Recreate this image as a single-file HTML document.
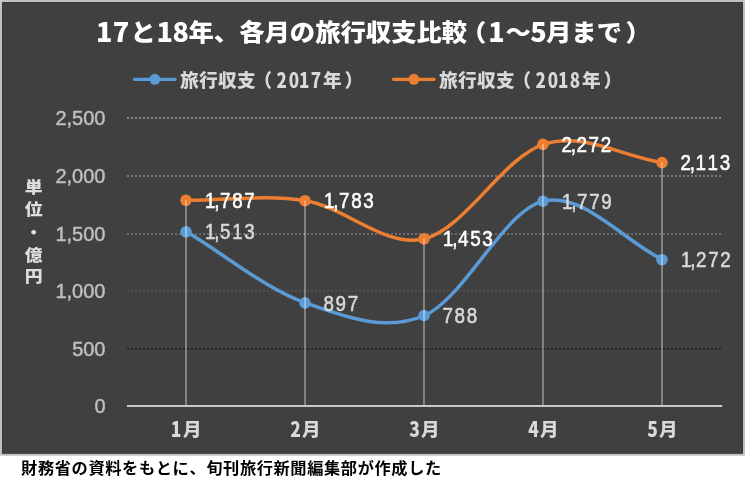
<!DOCTYPE html>
<html lang="ja"><head><meta charset="utf-8"><title>旅行収支比較</title>
<style>html,body{margin:0;padding:0;background:#fff;overflow:hidden}svg{display:block}</style></head>
<body>
<svg width="753" height="486" viewBox="0 0 753 486">
<rect x="0" y="0" width="745" height="455.75" rx="1.5" fill="#c1c1c1"/>
<rect x="2" y="2" width="741" height="451.8" fill="#383838"/>
<rect x="3" y="3" width="739.4" height="450.2" fill="#404040"/>
<line x1="127" x2="722" y1="118" y2="118" stroke="#868686" stroke-width="2" stroke-dasharray="2 2" shape-rendering="crispEdges"/>
<line x1="127" x2="722" y1="176" y2="176" stroke="#7c7c7c" stroke-width="2" stroke-dasharray="2 2" shape-rendering="crispEdges"/>
<line x1="127" x2="722" y1="234" y2="234" stroke="#6c6c6c" stroke-width="2" stroke-dasharray="2 2" shape-rendering="crispEdges"/>
<line x1="127" x2="722" y1="291" y2="291" stroke="#4f4f4f" stroke-width="2" stroke-dasharray="2 2" shape-rendering="crispEdges"/>
<line x1="127" x2="722" y1="349" y2="349" stroke="#262626" stroke-width="2" stroke-dasharray="2 2" shape-rendering="crispEdges"/>
<rect x="127" y="405" width="595.2" height="2" fill="#c9c9c9"/>
<path d="M186.50,231.86 C226.17,255.55 265.83,288.98 305.50,302.92 C345.17,316.86 384.83,332.45 424.50,315.50 C464.17,298.54 503.83,210.48 543.50,201.17 C583.17,191.87 622.83,240.17 662.50,259.66" fill="none" stroke="#5b9bd5" stroke-width="3.5" stroke-linecap="round"/>
<circle cx="186.0" cy="231.9" r="5.8" fill="#5b9bd5"/>
<circle cx="305.0" cy="302.9" r="5.8" fill="#5b9bd5"/>
<circle cx="424.0" cy="315.5" r="5.8" fill="#5b9bd5"/>
<circle cx="543.0" cy="201.2" r="5.8" fill="#5b9bd5"/>
<circle cx="662.0" cy="259.7" r="5.8" fill="#5b9bd5"/>
<path d="M186.50,200.25 C226.17,200.41 265.83,194.29 305.50,200.71 C345.17,207.13 384.83,248.18 424.50,238.78 C464.17,229.38 503.83,156.99 543.50,144.30 C583.17,131.61 622.83,156.53 662.50,162.64" fill="none" stroke="#ed7d31" stroke-width="3.5" stroke-linecap="round"/>
<circle cx="186.0" cy="200.3" r="5.8" fill="#ed7d31"/>
<circle cx="305.0" cy="200.7" r="5.8" fill="#ed7d31"/>
<circle cx="424.0" cy="238.8" r="5.8" fill="#ed7d31"/>
<circle cx="543.0" cy="144.3" r="5.8" fill="#ed7d31"/>
<circle cx="662.0" cy="162.6" r="5.8" fill="#ed7d31"/>
<line x1="186.0" x2="186.0" y1="200.3" y2="405" stroke="#ffffff" stroke-opacity="0.5" stroke-width="1.4"/>
<line x1="305.0" x2="305.0" y1="200.7" y2="405" stroke="#ffffff" stroke-opacity="0.5" stroke-width="1.4"/>
<line x1="424.0" x2="424.0" y1="238.8" y2="405" stroke="#ffffff" stroke-opacity="0.5" stroke-width="1.4"/>
<line x1="543.0" x2="543.0" y1="144.3" y2="405" stroke="#ffffff" stroke-opacity="0.5" stroke-width="1.4"/>
<line x1="662.0" x2="662.0" y1="162.6" y2="405" stroke="#ffffff" stroke-opacity="0.5" stroke-width="1.4"/>
<text transform="translate(105.50 125.30)" text-anchor="end" font-family="'Liberation Sans',sans-serif" font-weight="normal" font-size="20" fill="#bfbfbf" stroke="#bfbfbf" stroke-width="0.45">2,500</text>
<text transform="translate(105.50 183.30)" text-anchor="end" font-family="'Liberation Sans',sans-serif" font-weight="normal" font-size="20" fill="#bfbfbf" stroke="#bfbfbf" stroke-width="0.45">2,000</text>
<text transform="translate(105.50 241.30)" text-anchor="end" font-family="'Liberation Sans',sans-serif" font-weight="normal" font-size="20" fill="#bfbfbf" stroke="#bfbfbf" stroke-width="0.45">1,500</text>
<text transform="translate(105.50 298.30)" text-anchor="end" font-family="'Liberation Sans',sans-serif" font-weight="normal" font-size="20" fill="#bfbfbf" stroke="#bfbfbf" stroke-width="0.45">1,000</text>
<text transform="translate(105.50 356.30)" text-anchor="end" font-family="'Liberation Sans',sans-serif" font-weight="normal" font-size="20" fill="#bfbfbf" stroke="#bfbfbf" stroke-width="0.45">500</text>
<text transform="translate(105.50 413.30)" text-anchor="end" font-family="'Liberation Sans',sans-serif" font-weight="normal" font-size="20" fill="#bfbfbf" stroke="#bfbfbf" stroke-width="0.45">0</text>
<text transform="translate(176.10 437.00) scale(0.84 1)" text-anchor="middle" font-family="'Noto Sans CJK JP',sans-serif" font-weight="900" font-size="20.8" fill="#d9d9d9">1</text>
<text transform="translate(183.00 435.50) scale(1.03 1)" text-anchor="start" font-family="'Noto Sans CJK JP',sans-serif" font-weight="900" font-size="18" fill="#d9d9d9">月</text>
<text transform="translate(295.45 437.00) scale(0.84 1)" text-anchor="middle" font-family="'Noto Sans CJK JP',sans-serif" font-weight="900" font-size="20.8" fill="#d9d9d9">2</text>
<text transform="translate(302.00 435.50) scale(1.03 1)" text-anchor="start" font-family="'Noto Sans CJK JP',sans-serif" font-weight="900" font-size="18" fill="#d9d9d9">月</text>
<text transform="translate(414.50 437.00) scale(0.84 1)" text-anchor="middle" font-family="'Noto Sans CJK JP',sans-serif" font-weight="900" font-size="20.8" fill="#d9d9d9">3</text>
<text transform="translate(421.00 435.50) scale(1.03 1)" text-anchor="start" font-family="'Noto Sans CJK JP',sans-serif" font-weight="900" font-size="18" fill="#d9d9d9">月</text>
<text transform="translate(533.50 437.00) scale(0.84 1)" text-anchor="middle" font-family="'Noto Sans CJK JP',sans-serif" font-weight="900" font-size="20.8" fill="#d9d9d9">4</text>
<text transform="translate(540.00 435.50) scale(1.03 1)" text-anchor="start" font-family="'Noto Sans CJK JP',sans-serif" font-weight="900" font-size="18" fill="#d9d9d9">月</text>
<text transform="translate(652.50 437.00) scale(0.84 1)" text-anchor="middle" font-family="'Noto Sans CJK JP',sans-serif" font-weight="900" font-size="20.8" fill="#d9d9d9">5</text>
<text transform="translate(659.00 435.50) scale(1.03 1)" text-anchor="start" font-family="'Noto Sans CJK JP',sans-serif" font-weight="900" font-size="18" fill="#d9d9d9">月</text>
<text transform="translate(210.30 239.46) scale(0.88 1)" x="0.00 7.61 17.05 30.85 44.66" text-anchor="middle" font-family="'Liberation Sans',sans-serif" font-weight="normal" font-size="21.4" fill="#d9d9d9" stroke="#d9d9d9" stroke-width="0.55">1,513</text>
<text transform="translate(210.30 207.85) scale(0.88 1)" x="0.00 7.61 17.05 30.85 44.66" text-anchor="middle" font-family="'Liberation Sans',sans-serif" font-weight="normal" font-size="21.4" fill="#ffffff" stroke="#ffffff" stroke-width="0.55">1,787</text>
<text transform="translate(328.70 310.52) scale(0.88 1)" x="0.00 13.81 27.61" text-anchor="middle" font-family="'Liberation Sans',sans-serif" font-weight="normal" font-size="21.4" fill="#d9d9d9" stroke="#d9d9d9" stroke-width="0.55">897</text>
<text transform="translate(329.30 208.31) scale(0.88 1)" x="0.00 7.61 17.05 30.85 44.66" text-anchor="middle" font-family="'Liberation Sans',sans-serif" font-weight="normal" font-size="21.4" fill="#ffffff" stroke="#ffffff" stroke-width="0.55">1,783</text>
<text transform="translate(447.70 323.10) scale(0.88 1)" x="0.00 13.81 27.61" text-anchor="middle" font-family="'Liberation Sans',sans-serif" font-weight="normal" font-size="21.4" fill="#d9d9d9" stroke="#d9d9d9" stroke-width="0.55">788</text>
<text transform="translate(448.30 246.38) scale(0.88 1)" x="0.00 7.61 17.05 30.85 44.66" text-anchor="middle" font-family="'Liberation Sans',sans-serif" font-weight="normal" font-size="21.4" fill="#ffffff" stroke="#ffffff" stroke-width="0.55">1,453</text>
<text transform="translate(567.30 208.77) scale(0.88 1)" x="0.00 7.61 17.05 30.85 44.66" text-anchor="middle" font-family="'Liberation Sans',sans-serif" font-weight="normal" font-size="21.4" fill="#d9d9d9" stroke="#d9d9d9" stroke-width="0.55">1,779</text>
<text transform="translate(566.70 151.90) scale(0.88 1)" x="0.00 7.61 17.05 30.85 44.66" text-anchor="middle" font-family="'Liberation Sans',sans-serif" font-weight="normal" font-size="21.4" fill="#ffffff" stroke="#ffffff" stroke-width="0.55">2,272</text>
<text transform="translate(686.30 267.26) scale(0.88 1)" x="0.00 7.61 17.05 30.85 44.66" text-anchor="middle" font-family="'Liberation Sans',sans-serif" font-weight="normal" font-size="21.4" fill="#d9d9d9" stroke="#d9d9d9" stroke-width="0.55">1,272</text>
<text transform="translate(685.70 170.24) scale(0.88 1)" x="0.00 7.61 17.05 30.85 44.66" text-anchor="middle" font-family="'Liberation Sans',sans-serif" font-weight="normal" font-size="21.4" fill="#ffffff" stroke="#ffffff" stroke-width="0.55">2,113</text>
<text transform="translate(104.25 41.90)" text-anchor="middle" font-family="'Noto Sans CJK JP',sans-serif" font-weight="900" font-size="27" fill="#ffffff">1</text>
<text transform="translate(121.00 41.90)" text-anchor="middle" font-family="'Noto Sans CJK JP',sans-serif" font-weight="900" font-size="27" fill="#ffffff">7</text>
<text transform="translate(130.50 41.00) scale(1.078 1)" x="0.00" text-anchor="start" font-family="'Noto Sans CJK JP',sans-serif" font-weight="900" font-size="23.5" fill="#ffffff">と</text>
<text transform="translate(164.70 41.90)" text-anchor="middle" font-family="'Noto Sans CJK JP',sans-serif" font-weight="900" font-size="27" fill="#ffffff">1</text>
<text transform="translate(180.70 41.90)" text-anchor="middle" font-family="'Noto Sans CJK JP',sans-serif" font-weight="900" font-size="27" fill="#ffffff">8</text>
<text transform="translate(188.50 41.00) scale(1.078 1)" x="0.00 23.50 47.00 70.50 94.00 117.50 141.00 164.50 188.00 211.50 235.00" text-anchor="start" font-family="'Noto Sans CJK JP',sans-serif" font-weight="900" font-size="23.5" fill="#ffffff">年、各月の旅行収支比較</text>
<text transform="translate(461.00 41.00) scale(1.078 1)" x="0.00" text-anchor="start" font-family="'Noto Sans CJK JP',sans-serif" font-weight="900" font-size="23.5" fill="#ffffff">（</text>
<text transform="translate(496.50 41.90)" text-anchor="middle" font-family="'Noto Sans CJK JP',sans-serif" font-weight="900" font-size="27" fill="#ffffff">1</text>
<text transform="translate(505.50 41.00) scale(1.078 1)" x="0.00" text-anchor="start" font-family="'Noto Sans CJK JP',sans-serif" font-weight="900" font-size="23.5" fill="#ffffff">～</text>
<text transform="translate(538.35 41.90)" text-anchor="middle" font-family="'Noto Sans CJK JP',sans-serif" font-weight="900" font-size="27" fill="#ffffff">5</text>
<text transform="translate(546.00 41.00) scale(1.078 1)" x="0.00 23.50 47.00" text-anchor="start" font-family="'Noto Sans CJK JP',sans-serif" font-weight="900" font-size="23.5" fill="#ffffff">月まで</text>
<text transform="translate(625.60 41.00) scale(1.078 1)" x="0.00" text-anchor="start" font-family="'Noto Sans CJK JP',sans-serif" font-weight="900" font-size="23.5" fill="#ffffff">）</text>
<line x1="134.5" x2="175.0" y1="79.3" y2="79.3" stroke="#5b9bd5" stroke-width="3.2" stroke-linecap="round"/>
<circle cx="154.9" cy="79.3" r="5.5" fill="#5b9bd5"/>
<text transform="translate(180.00 87.00)" x="0.00 19.00 38.00 57.00" text-anchor="start" font-family="'Noto Sans CJK JP',sans-serif" font-weight="900" font-size="18.67" fill="#d9d9d9">旅行収支</text>
<text transform="translate(253.40 87.00)" text-anchor="start" font-family="'Noto Sans CJK JP',sans-serif" font-weight="900" font-size="18.67" fill="#d9d9d9">（</text>
<text transform="translate(281.65 88.00) scale(0.82 1)" text-anchor="middle" font-family="'Noto Sans CJK JP',sans-serif" font-weight="900" font-size="20.8" fill="#d9d9d9">2</text>
<text transform="translate(294.05 88.00) scale(0.82 1)" text-anchor="middle" font-family="'Noto Sans CJK JP',sans-serif" font-weight="900" font-size="20.8" fill="#d9d9d9">0</text>
<text transform="translate(304.30 88.00) scale(0.82 1)" text-anchor="middle" font-family="'Noto Sans CJK JP',sans-serif" font-weight="900" font-size="20.8" fill="#d9d9d9">1</text>
<text transform="translate(315.95 88.00) scale(0.82 1)" text-anchor="middle" font-family="'Noto Sans CJK JP',sans-serif" font-weight="900" font-size="20.8" fill="#d9d9d9">7</text>
<text transform="translate(323.10 87.00)" text-anchor="start" font-family="'Noto Sans CJK JP',sans-serif" font-weight="900" font-size="18.67" fill="#d9d9d9">年</text>
<text transform="translate(344.50 87.00)" text-anchor="start" font-family="'Noto Sans CJK JP',sans-serif" font-weight="900" font-size="18.67" fill="#d9d9d9">）</text>
<line x1="393.5" x2="434.0" y1="79.3" y2="79.3" stroke="#ed7d31" stroke-width="3.2" stroke-linecap="round"/>
<circle cx="413.9" cy="79.3" r="5.5" fill="#ed7d31"/>
<text transform="translate(439.00 87.00)" x="0.00 19.00 38.00 57.00" text-anchor="start" font-family="'Noto Sans CJK JP',sans-serif" font-weight="900" font-size="18.67" fill="#d9d9d9">旅行収支</text>
<text transform="translate(512.40 87.00)" text-anchor="start" font-family="'Noto Sans CJK JP',sans-serif" font-weight="900" font-size="18.67" fill="#d9d9d9">（</text>
<text transform="translate(540.65 88.00) scale(0.82 1)" text-anchor="middle" font-family="'Noto Sans CJK JP',sans-serif" font-weight="900" font-size="20.8" fill="#d9d9d9">2</text>
<text transform="translate(553.05 88.00) scale(0.82 1)" text-anchor="middle" font-family="'Noto Sans CJK JP',sans-serif" font-weight="900" font-size="20.8" fill="#d9d9d9">0</text>
<text transform="translate(563.30 88.00) scale(0.82 1)" text-anchor="middle" font-family="'Noto Sans CJK JP',sans-serif" font-weight="900" font-size="20.8" fill="#d9d9d9">1</text>
<text transform="translate(574.95 88.00) scale(0.82 1)" text-anchor="middle" font-family="'Noto Sans CJK JP',sans-serif" font-weight="900" font-size="20.8" fill="#d9d9d9">8</text>
<text transform="translate(582.10 87.00)" text-anchor="start" font-family="'Noto Sans CJK JP',sans-serif" font-weight="900" font-size="18.67" fill="#d9d9d9">年</text>
<text transform="translate(603.50 87.00)" text-anchor="start" font-family="'Noto Sans CJK JP',sans-serif" font-weight="900" font-size="18.67" fill="#d9d9d9">）</text>
<text transform="translate(33.60 193.20) scale(1.03 0.93)" text-anchor="middle" font-family="'Noto Sans CJK JP',sans-serif" font-weight="900" font-size="17.33" fill="#dedede">単</text>
<text transform="translate(33.60 214.90) scale(1.03 0.93)" text-anchor="middle" font-family="'Noto Sans CJK JP',sans-serif" font-weight="900" font-size="17.33" fill="#dedede">位</text>
<text transform="translate(33.60 237.60) scale(1.03 0.93)" text-anchor="middle" font-family="'Noto Sans CJK JP',sans-serif" font-weight="900" font-size="17.33" fill="#dedede">・</text>
<text transform="translate(33.60 260.60) scale(1.03 0.93)" text-anchor="middle" font-family="'Noto Sans CJK JP',sans-serif" font-weight="900" font-size="17.33" fill="#dedede">億</text>
<text transform="translate(33.60 281.90) scale(1.03 0.93)" text-anchor="middle" font-family="'Noto Sans CJK JP',sans-serif" font-weight="900" font-size="17.33" fill="#dedede">円</text>
<text transform="translate(21.10 474.30) scale(1.04 1)" x="0.00 16.18 32.37 48.55 64.73 80.91 97.10 113.28 129.46 145.64 161.83 178.01 194.19 210.37 226.56 242.74 258.92 275.11 291.29 307.47 323.65 339.84 356.02 372.20 388.38" text-anchor="start" font-family="'Noto Sans CJK JP',sans-serif" font-weight="bold" font-size="15.6" fill="#000000">財務省の資料をもとに、旬刊旅行新聞編集部が作成した</text>
</svg>
</body></html>
